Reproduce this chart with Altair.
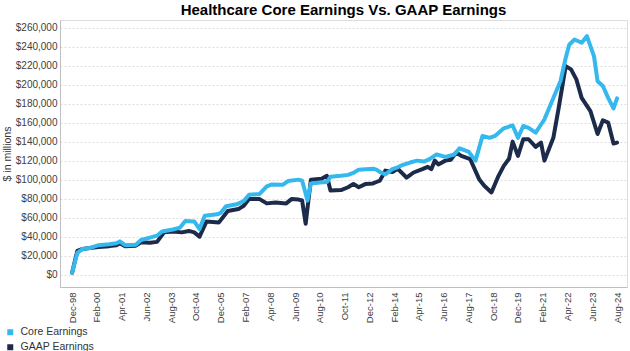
import altair as alt
import pandas as pd

# values in $ thousands of millions (value * 1000 = $ millions); months since Dec-1998
core_months = [0, 3, 6, 10, 15, 21, 25, 27, 30, 36, 39, 44, 48, 51, 57, 61, 64, 69, 72, 75,
               82, 84, 87, 93, 97, 100, 106, 110, 113, 119, 122, 128, 130, 133, 135, 140, 144,
               146, 152, 156, 159, 162, 166, 170, 172, 174, 177, 181, 184, 187, 191, 195, 199,
               202, 206, 211, 216, 219, 224, 228, 232, 236, 239, 244, 249, 252, 255, 258, 262,
               265, 267, 272, 276, 279, 281, 284, 288, 291, 295, 297, 300, 303, 306, 308]
core_values = [2, 23, 27, 28, 31, 32, 33, 35, 31, 31.5, 36.5, 39, 41, 45.5, 47.5, 49.5, 56.5, 56,
               48, 62, 63.5, 65, 72, 74, 77.5, 84, 85, 93, 95, 94.5, 98.5, 100, 99, 78, 96, 97,
               97.5, 103, 104, 105, 107, 110.5, 111, 111.5, 110.5, 108, 105.5, 111, 113, 115.5,
               118, 120, 119, 121.5, 126.5, 124, 126.5, 133, 129.5, 120, 146, 144, 146, 154, 157,
               144, 156.5, 154.5, 149.5, 158, 163.5, 186, 203.5, 228, 242, 247.5, 244, 251, 230,
               203.5, 198.5, 186, 175, 185.5]

gaap_months = [0, 3, 6, 10, 15, 21, 25, 27, 30, 36, 39, 44, 48, 52, 57, 62, 66, 69, 72, 76, 83,
               88, 94, 97, 100, 106, 110, 115, 121, 124, 128, 130, 132, 135, 141, 144, 146, 152,
               156, 159, 162, 166, 170, 172, 174, 177, 181, 184, 187, 189, 193, 198, 201, 203,
               205, 207, 211, 214, 217, 220, 225, 230, 233, 237, 241, 244, 247, 249, 252, 255,
               258, 262, 265, 267, 272, 275, 279, 282, 285, 288, 293, 297, 300, 303, 306, 308]
gaap_values = [2, 25, 27, 28, 29, 30, 31, 33, 30, 30.5, 34, 33.5, 34.5, 44.5, 45.5, 44.5, 46,
               44.5, 40, 56, 55, 67, 69, 72.5, 79.5, 79.5, 75, 76, 75, 79.5, 79, 78, 53.5, 100,
               101, 104, 88.5, 89, 92, 95.5, 92, 95.5, 96, 97.5, 99, 109.5, 108, 111.5, 106, 102,
               107.5, 111, 113.5, 111, 120, 116, 120, 121, 128.5, 125, 121.5, 100.5, 93.5, 86.5,
               104, 114.5, 122, 140, 125, 142.5, 142.5, 134.5, 139, 120, 144, 175.5, 219.5, 216,
               205.5, 186, 172, 148, 162.5, 160, 138, 139]

series_names = ["Core Earnings", "GAAP Earnings"]
series_colors = ["#35B8EE", "#1C2B4A"]
y_ticks = list(range(0, 260001, 20000))
label_every_months = 14

base = pd.Timestamp("1998-12-01")


def to_date(m):
    return (base + pd.DateOffset(months=int(m))).strftime("%Y-%m-%dT00:00:00")


rows = []
for m, v in zip(core_months, core_values):
    rows.append({"date": to_date(m), "value": v * 1000, "series": series_names[0]})
for m, v in zip(gaap_months, gaap_values):
    rows.append({"date": to_date(m), "value": v * 1000, "series": series_names[1]})
df = pd.DataFrame(rows)

tick_vals = []
for i in range(23):
    t = base + pd.DateOffset(months=label_every_months * i)
    tick_vals.append(alt.DateTime(year=t.year, month=t.month, date=1))

x_enc = alt.X(
    "date:T",
    scale=alt.Scale(domain=[alt.DateTime(year=1998, month=5, date=7),
                            alt.DateTime(year=2025, month=1, date=19)], nice=False),
    axis=alt.Axis(values=tick_vals, format="%b-%y", labelAngle=-90, title=None,
                  grid=False, ticks=False, labelFontSize=9.5, labelPadding=5,
                  labelColor="#404040", domainColor="#bfbfbf", labelFont="Liberation Sans"),
)
y_enc = alt.Y(
    "value:Q",
    scale=alt.Scale(domain=[-13000, 268000], nice=False, zero=False),
    axis=alt.Axis(values=y_ticks, format="$,.0f", title="$ in millions",
                  titleFontSize=10.5, titleFontWeight="normal", titleColor="#333333",
                  titlePadding=3, titleFont="Liberation Sans",
                  labelFontSize=10, labelColor="#404040", labelFont="Liberation Sans",
                  labelPadding=3, ticks=False, domainColor="#bfbfbf",
                  gridColor="#dedede", gridDash=[2, 2]),
)
color_enc = alt.Color(
    "series:N",
    scale=alt.Scale(domain=series_names, range=series_colors),
    legend=alt.Legend(title=None, orient="none", legendX=-55, legendY=307, padding=0,
                      symbolType="square", symbolSize=9, symbolStrokeWidth=3,
                      labelFontSize=10.5, labelColor="#333333", labelFont="Liberation Sans",
                      rowPadding=-1, labelOffset=5),
)

gaap = alt.Chart(df).transform_filter(alt.datum.series == series_names[1]).mark_line(
    strokeWidth=4, strokeJoin="round", strokeCap="round"
).encode(x=x_enc, y=y_enc, color=color_enc)
core = alt.Chart(df).transform_filter(alt.datum.series == series_names[0]).mark_line(
    strokeWidth=4, strokeJoin="round", strokeCap="round"
).encode(x=x_enc, y=y_enc, color=color_enc)

chart = alt.layer(gaap, core).properties(
    width=567, height=267,
    autosize=alt.AutoSizeParams(type="none"),
    padding={"left": 60, "top": 20, "right": 3, "bottom": 64},
    title=alt.TitleParams("Healthcare Core Earnings Vs. GAAP Earnings", fontSize=15,
                          font="Liberation Sans", fontWeight="bold", color="#000000",
                          anchor="middle", frame="group", offset=4, baseline="alphabetic",
                          dy=14),
).configure_view(stroke=None).configure(background="white")

chart.save("out.html", embed_options={"renderer": "svg", "actions": False})
